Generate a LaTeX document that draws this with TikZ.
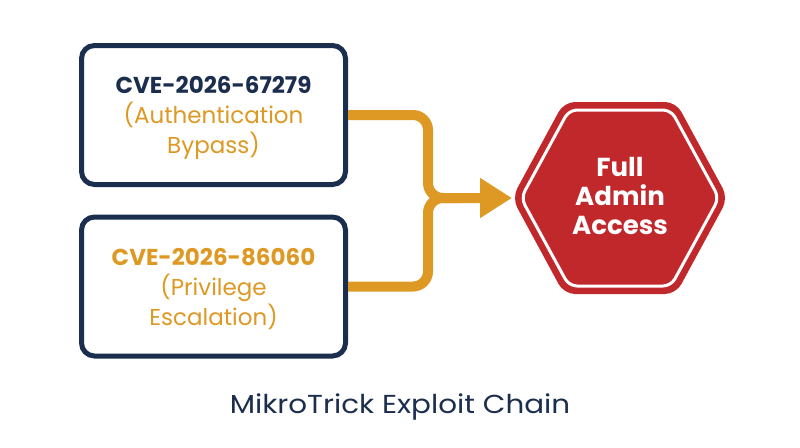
\documentclass[tikz,border=0pt]{standalone}
\usepackage{fontspec}
\setmainfont{Poppins}
\newfontfamily\titlefont[FakeStretch=1.13]{Poppins}
\usetikzlibrary{arrows.meta}

\newlength{\du}
\setlength{\du}{1pt}

\definecolor{cvenavy}{rgb}{0.106,0.180,0.302}
\definecolor{chainorange}{rgb}{0.871,0.600,0.141}
\definecolor{accessred}{rgb}{0.757,0.157,0.173}

\begin{document}
\begin{tikzpicture}[x=\du,y=-\du,
  cvebox/.style={draw=cvenavy,line width=5\du,rounded corners=13\du,fill=white,
    minimum width=264\du,minimum height=139\du,align=center,inner sep=0pt,
    text depth=0pt,font=\fontsize{23}{30}\selectfont},
  chain/.style={draw=chainorange,line width=10\du,rounded corners=15\du},
  chaintip/.style={-{Triangle[length=32pt,width=38pt]}}]
\useasboundingbox (0,0) rectangle (800,447);

% the two CVE boxes
\node[cvebox] (auth) at (213.5,115)
  {\textbf{\color{cvenavy}CVE-2026-67279}\\{\color{chainorange}(Authentication}\\{\color{chainorange}Bypass)}};
\node[cvebox] (priv) at (213.5,286.5)
  {\textbf{\color{chainorange}CVE-2026-86060}\\{\color{chainorange}(Privilege}\\{\color{chainorange}Escalation)}};

% the hexagon
\fill[accessred,rounded corners=11\du] (512,198)--(564,102)--(676,102)--(728,198)--(676,294)--(564,294)--cycle;
\draw[white,line width=3\du,rounded corners=8\du] (521,198)--(569,110)--(671,110)--(719,198)--(671,286)--(569,286)--cycle;
\node[text=white,align=center,font=\fontsize{26}{29}\selectfont\bfseries] (access) at (620,196) {Full\\Admin\\Access};
\coordinate (access-w) at (512,198);

% the chain
\coordinate (merge) at (428,198);
\coordinate (join) at (460,198);
\draw[chain,chaintip] (auth.east) -| (merge) -- (access-w);
\draw[chain] (priv.east) -| (merge) -- (join);

\node[anchor=base,text=cvenavy,font=\fontsize{26}{30}\titlefont] (title) at (400,413) {MikroTrick Exploit Chain};
\end{tikzpicture}
\end{document}
